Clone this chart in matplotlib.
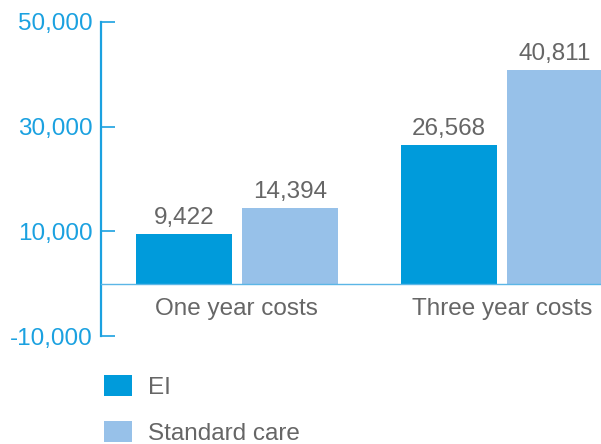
import matplotlib
matplotlib.use("Agg")
import matplotlib.pyplot as plt
from matplotlib.ticker import FuncFormatter
import numpy as np

plt.rcParams['font.family'] = ['Liberation Sans', 'DejaVu Sans']

categories = ["One year costs", "Three year costs"]
series = ["EI", "Standard care"]
ei_costs = [9422, 26568]
standard_costs = [14394, 40811]
y_ticks = [-10000, 10000, 30000, 50000]

blue_dark = "#009bdb"
blue_light = "#97c1e9"
axis_blue = "#1ba1e0"
grey = "#666666"
fs = 17.5

fig = plt.figure(figsize=(6.01, 4.44), dpi=100)
ax = fig.add_axes([101 / 601, (444 - 336) / 444, 500 / 601, (336 - 22) / 444])

x = np.arange(len(categories))
w = 0.362
off = 0.2
b1 = ax.bar(x - off, ei_costs, w, color=blue_dark, label=series[0])
b2 = ax.bar(x + off, standard_costs, w, color=blue_light, label=series[1])

for bars in (b1, b2):
    for r in bars:
        ax.annotate(f"{int(r.get_height()):,}", (r.get_x() + r.get_width() / 2, r.get_height()),
                    xytext=(0, 3.5), textcoords="offset points", ha="center", va="bottom",
                    fontsize=fs, color=grey)

ax.set_xlim(-0.513, 1.374)
ax.set_ylim(-10000, 50000)
ax.set_yticks(y_ticks)
ax.yaxis.set_major_formatter(FuncFormatter(lambda v, p: f"{int(v):,}"))
ax.tick_params(axis="y", direction="in", length=10, width=1.2, color=axis_blue,
               labelcolor=axis_blue, labelsize=fs, pad=6)
ax.set_xticks(x)
ax.set_xticklabels(categories)
ax.tick_params(axis="x", length=0, labelsize=fs, labelcolor=grey, pad=10.5)

for s in ("top", "right"):
    ax.spines[s].set_visible(False)
ax.spines["left"].set_color(axis_blue)
ax.spines["left"].set_linewidth(1.6)
ax.spines["bottom"].set_position(("data", 0))
ax.spines["bottom"].set_color("#5bb6e6")
ax.spines["bottom"].set_linewidth(1.0)
ax.patch.set_alpha(0)

leg = ax.legend(loc="upper left", bbox_to_anchor=(104 / 601, 1 - 375 / 444),
                bbox_transform=fig.transFigure, frameon=False, fontsize=fs,
                borderpad=0, borderaxespad=0,
                handlelength=1.15, handleheight=0.95, handletextpad=0.65, labelspacing=0.92)
for t in leg.get_texts():
    t.set_color(grey)

fig.savefig("out.png", dpi=100)
